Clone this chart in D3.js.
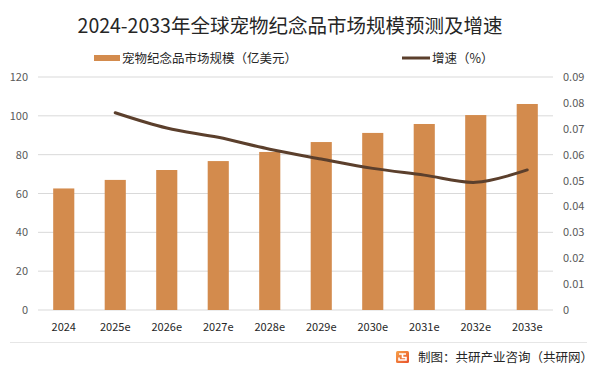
<!DOCTYPE html>
<html>
<head>
<meta charset="utf-8">
<script src="https://cdn.jsdelivr.net/npm/d3@7"></script>
<style>
  body { margin: 0; background: #fff; }
  svg { display: block; }
</style>
</head>
<body>
<div id="chart"></div>
<script>
// data
const years = ["2024", "2025e", "2026e", "2027e", "2028e", "2029e", "2030e", "2031e", "2032e", "2033e"];
const marketSize = [62.6, 67.0, 72.1, 76.7, 81.4, 86.5, 91.2, 95.8, 100.4, 106.1];
const growth = [null, 0.0762, 0.0703, 0.0667, 0.0621, 0.0583, 0.0547, 0.0521, 0.0493, 0.0541];
const leftTicks = [0, 20, 40, 60, 80, 100, 120];
const rightTicks = [0, 0.01, 0.02, 0.03, 0.04, 0.05, 0.06, 0.07, 0.08, 0.09];

const width = 600, height = 375;
const margin = {top: 77, right: 47, bottom: 65, left: 38};
const font = "'Microsoft YaHei', 'Noto Sans CJK SC', sans-serif";

const svg = d3.select("#chart").append("svg")
    .attr("width", width)
    .attr("height", height)
    .attr("font-family", font);

const x = d3.scaleBand()
    .domain(years)
    .range([margin.left, width - margin.right])
    .paddingInner(0.59)
    .paddingOuter(0.295);

const y = d3.scaleLinear().domain([0, 120]).range([height - margin.bottom, margin.top]);
const y2 = d3.scaleLinear().domain([0, 0.09]).range([height - margin.bottom, margin.top]);

// title
svg.append("text")
    .attr("x", 290).attr("y", 33)
    .attr("text-anchor", "middle")
    .attr("font-size", 19.5)
    .attr("fill", "#262626")
    .text("2024-2033年全球宠物纪念品市场规模预测及增速");

// gridlines
svg.append("g")
    .selectAll("line")
    .data(leftTicks)
    .join("line")
    .attr("x1", margin.left).attr("x2", width - margin.right)
    .attr("y1", d => y(d)).attr("y2", d => y(d))
    .attr("stroke", "#d9d9d9")
    .attr("stroke-width", 1);

// left axis
const leftAxis = svg.append("g")
    .attr("transform", `translate(${margin.left - 10},0)`)
    .call(d3.axisLeft(y).tickValues(leftTicks).tickSize(0).tickPadding(0));
leftAxis.select(".domain").remove();
leftAxis.selectAll("text").attr("font-size", 11).attr("fill", "#595959").attr("font-family", font);

// right axis
const rightAxis = svg.append("g")
    .attr("transform", `translate(${width - margin.right + 10},0)`)
    .call(d3.axisRight(y2).tickValues(rightTicks).tickSize(0).tickPadding(0)
        .tickFormat(d => d === 0 ? "0" : d3.format(".2f")(d)));
rightAxis.select(".domain").remove();
rightAxis.selectAll("text").attr("font-size", 11).attr("fill", "#595959").attr("font-family", font);

// bottom axis
const bottomAxis = svg.append("g")
    .attr("transform", `translate(0,${height - margin.bottom + 7})`)
    .call(d3.axisBottom(x).tickSize(0).tickPadding(6));
bottomAxis.select(".domain").remove();
bottomAxis.selectAll("text").attr("font-size", 11).attr("fill", "#262626").attr("font-family", font);

// bars
svg.append("g")
    .selectAll("rect")
    .data(marketSize)
    .join("rect")
    .attr("x", (d, i) => x(years[i]))
    .attr("y", d => y(d))
    .attr("width", x.bandwidth())
    .attr("height", d => y(0) - y(d))
    .attr("fill", "#d38b4d");

// growth line
const line = d3.line()
    .defined(d => d != null)
    .x((d, i) => x(years[i]) + x.bandwidth() / 2)
    .y(d => y2(d))
    .curve(d3.curveCatmullRom.alpha(0.5));

svg.append("path")
    .datum(growth)
    .attr("d", line)
    .attr("fill", "none")
    .attr("stroke", "#5b3f2c")
    .attr("stroke-width", 3)
    .attr("stroke-linecap", "round");

// legend
const legend = svg.append("g").attr("font-size", 12.5).attr("fill", "#262626");
legend.append("rect")
    .attr("x", 94).attr("y", 55).attr("width", 26).attr("height", 6)
    .attr("fill", "#d38b4d");
legend.append("text")
    .attr("x", 122).attr("y", 63)
    .attr("fill", "#262626")
    .text("宠物纪念品市场规模（亿美元）");
legend.append("line")
    .attr("x1", 402).attr("x2", 430).attr("y1", 58).attr("y2", 58)
    .attr("stroke", "#5b3f2c").attr("stroke-width", 3);
legend.append("text")
    .attr("x", 432).attr("y", 63)
    .attr("fill", "#262626")
    .text("增速（%）");

// footer
svg.append("line")
    .attr("x1", 10).attr("x2", 587).attr("y1", 342.5).attr("y2", 342.5)
    .attr("stroke", "#e6e6e6").attr("stroke-width", 1);

const grad = svg.append("defs").append("linearGradient")
    .attr("id", "logoGrad").attr("x1", 0).attr("y1", 0).attr("x2", 1).attr("y2", 1);
grad.append("stop").attr("offset", "0%").attr("stop-color", "#f7a24a");
grad.append("stop").attr("offset", "100%").attr("stop-color", "#e8512a");

const logo = svg.append("g").attr("transform", "translate(396,351)");
logo.append("rect").attr("width", 13).attr("height", 12).attr("rx", 1.5).attr("fill", "url(#logoGrad)");
logo.append("path")
    .attr("d", "M3,3 H10 M6.5,3 V6.5 H10 V9 H3 V6.5")
    .attr("fill", "none").attr("stroke", "#fff").attr("stroke-width", 1.6);

svg.append("text")
    .attr("x", 418).attr("y", 362)
    .attr("font-size", 12.5)
    .attr("fill", "#262626")
    .text("制图：共研产业咨询（共研网）");
</script>
</body>
</html>
